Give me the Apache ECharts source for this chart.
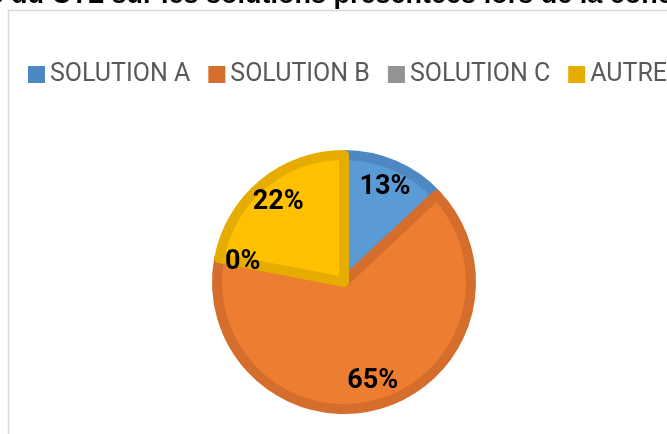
<!DOCTYPE html>
<html><head><meta charset="utf-8">
<script src="https://cdn.jsdelivr.net/npm/echarts@6/dist/echarts.min.js"></script>
<style>html,body{margin:0;padding:0;background:#fff}#c{width:667px;height:434px}</style>
</head><body><div id="c"></div>
<script>
const categories = ['SOLUTION A', 'SOLUTION B', 'SOLUTION C', 'AUTRE'];
const values = [13, 65, 0, 22];
const fillColors = ['#5b9bd5', '#ed7d31', '#a5a5a5', '#ffc000'];
const borderColors = ['#4e88c2', '#d56e2c', '#939393', '#e6ad00'];
const titleText = 'Avis du CTL sur les solutions présentées lors de la concertation';

const chart = echarts.init(document.getElementById('c'), null, {renderer: 'canvas'});

const mainData = categories.map((n, i) => ({
  name: n, value: values[i],
  itemStyle: {color: fillColors[i], borderColor: borderColors[i], borderWidth: values[i] > 0 ? 10 : 0}
}));
const labelData = categories.map((n, i) => ({name: n, value: values[i]}));

chart.setOption({
  animation: false,
  graphic: [
    {type: 'rect', silent: true, z: 0,
     shape: {x: 8.5, y: 10.5, width: 900, height: 700},
     style: {fill: 'none', stroke: '#d9d9d9', lineWidth: 1.5}},
    {type: 'text', silent: true, z: 1, x: -52.5, y: -4,
     style: {text: titleText, font: 'bold 27px "Liberation Sans"', fill: '#000',
             textVerticalAlign: 'middle', textAlign: 'left'}}
  ],
  legend: {
    left: 28, top: 62, width: 2000, padding: 0,
    itemWidth: 17, itemHeight: 17, itemGap: 18, icon: 'rect',
    data: categories.map((n, i) => ({name: n, itemStyle: {color: borderColors[i], borderWidth: 0}})),
    textStyle: {fontFamily: 'Roboto', fontSize: 25, color: '#595959'},
    selectedMode: false
  },
  series: [
    {
      type: 'pie', center: [344, 282], radius: [0, 127], startAngle: 90, clockwise: true,
      data: mainData, silent: true, label: {show: false}, labelLine: {show: false},
      itemStyle: {borderJoin: 'round'}
    },
    {
      type: 'pie', center: [344, 282], radius: [73, 127], startAngle: 90, clockwise: true,
      data: labelData, silent: true,
      itemStyle: {color: 'rgba(0,0,0,0)', borderWidth: 0},
      label: {show: true, position: 'inside', formatter: '{c}%',
              fontFamily: 'Roboto', fontWeight: 'bold', fontSize: 27, color: '#000'},
      labelLine: {show: false}
    }
  ]
});
</script></body></html>
